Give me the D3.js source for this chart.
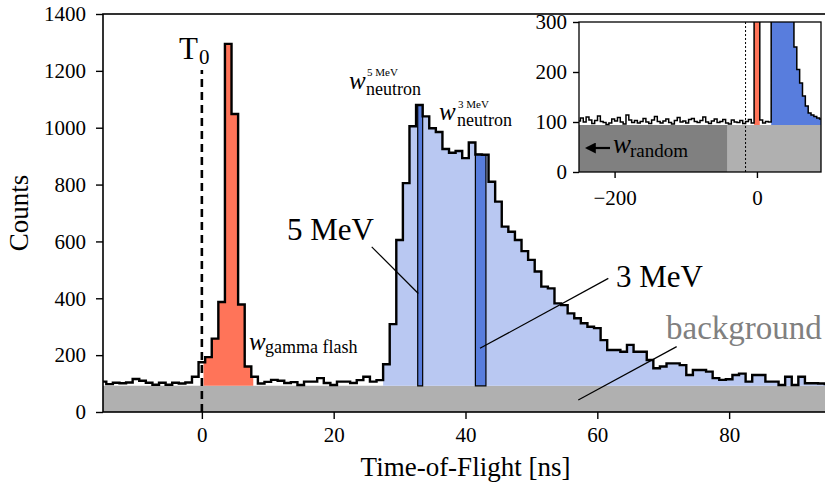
<!DOCTYPE html>
<html><head><meta charset="utf-8">
<script src="https://cdn.jsdelivr.net/npm/d3@7"></script>
<style>body{margin:0;background:#fff}</style>
</head><body><svg id="c" width="825" height="487"></svg>
<script>
// ---------- data ----------
const tof = [-15,-14,-13,-12,-11,-10,-9,-8,-7,-6,-5,-4,-3,-2,-1,0,1,2,3,4,5,6,7,8,9,
  10,11,12,13,14,15,16,17,18,19,20,21,22,23,24,25,26,27,28,29,30,31,32,33,34,35,36,37,38,39,
  40,41,42,43,44,45,46,47,48,49,50,51,52,53,54,55,56,57,58,59,60,61,62,63,64,65,66,67,68,69,
  70,71,72,73,74,75,76,77,78,79,80,81,82,83,84,85,86,87,88,89,90,91,92,93,94,95];
const counts = [107,98,103,101,104,116,110,103,96,103,96,103,100,104,124,175,193,258,387,1295,1048,378,160,124,100,
  106,113,110,102,105,95,107,107,119,102,95,107,107,102,112,124,107,112,168,309,605,805,1005,1080,1040,998,985,925,912,918,
  893,948,906,905,810,740,652,634,605,566,535,494,441,435,382,376,347,330,312,300,295,253,218,218,212,236,212,212,183,154,
  160,171,171,165,130,148,148,142,119,113,115,130,135,107,130,130,107,107,95,124,95,124,101,101,100,98];
const binWidth = 1;
const backgroundLevel = 92;
const gammaWindow = [0.25, 7.8];
const neutronWindow = [27.5, 95];
const window5MeV = [32.75, 33.5];
const window3MeV = [41.5, 43.1];
const t0Top = 1203;
const xTicks = [0, 20, 40, 60, 80];
const yTicks = [0, 200, 400, 600, 800, 1000, 1200, 1400];

// inset (coarser binning, wider range)
const insetBinStart = -252;
const insetBinWidth = 4;
const insetCounts = [102,108,100,110,104,97,103,112,101,99,
  95,98,106,102,109,100,96,114,104,99,
  103,98,101,107,100,97,104,111,101,98,
  102,106,99,96,103,109,100,102,98,105,
  107,101,99,103,110,100,97,102,106,99,
  101,105,98,96,104,100,99,103,97,101,
  105,98,
  900,650,
  104,98,101,100,
  420,1000,960,920,880,720,600,480,
  250,205,178,152,132,118,114,111,108,106];
const insetBackgroundLevel = 94;
const insetRandomWindow = [-250, -42];
const insetGammaWindow = [-4, 4];
const insetNeutronWindow = [20, 90];
const insetMarker = -16;
const insetXTicks = [-200, 0];
const insetYTicks = [0, 100, 200, 300];

// ---------- style ----------
const FONT = "'Liberation Serif','DejaVu Serif',serif";
const C = {orange:'#ff7459', light:'#b9c8f2', dark:'#587ddd', gray:'#b0b0b0', dgray:'#808080'};

const svg = d3.select('#c');
const M = {left:103, right:828, top:14, bottom:412};
const x = d3.scaleLinear().domain([-15, 95]).range([M.left, M.right]);
const y = d3.scaleLinear().domain([0, 1400]).range([M.bottom, M.top]);

function stepPoints(lefts, width, vals, a, b) {
  const pts = []; let last = null;
  for (let i = 0; i < vals.length; i++) {
    const l = lefts[i], r = l + width;
    if (r <= a || l >= b) continue;
    pts.push([Math.max(l, a), vals[i]]); last = vals[i];
  }
  pts.push([b, last]);
  return pts;
}
const lefts = tof.map(t => t - binWidth / 2);

const defs = svg.append('defs');
defs.append('clipPath').attr('id','mainClip').append('rect')
  .attr('x', M.left).attr('y', M.top).attr('width', M.right - M.left).attr('height', M.bottom - M.top);

const plot = svg.append('g').attr('clip-path','url(#mainClip)');

function fillArea(g, xs, ys, pts, base, color, stroke) {
  const ar = d3.area().curve(d3.curveStepAfter).x(d => xs(d[0])).y0(ys(base)).y1(d => ys(d[1]));
  const p = g.append('path').datum(pts).attr('d', ar).attr('fill', color);
  if (stroke) p.attr('stroke', '#000').attr('stroke-width', 1.2);
  return p;
}

// background
fillArea(plot, x, y, [[-15, backgroundLevel],[95, backgroundLevel]], 0, C.gray);
// neutron region
fillArea(plot, x, y, stepPoints(lefts, binWidth, counts, neutronWindow[0], neutronWindow[1]), backgroundLevel, C.light);
// gamma flash
fillArea(plot, x, y, stepPoints(lefts, binWidth, counts, gammaWindow[0], gammaWindow[1]), backgroundLevel, C.orange);
// energy windows
fillArea(plot, x, y, stepPoints(lefts, binWidth, counts, window5MeV[0], window5MeV[1]), backgroundLevel, C.dark, true);
fillArea(plot, x, y, stepPoints(lefts, binWidth, counts, window3MeV[0], window3MeV[1]), backgroundLevel, C.dark, true);
// histogram
plot.append('path').datum(stepPoints(lefts, binWidth, counts, -15, 95))
  .attr('d', d3.line().curve(d3.curveStepAfter).x(d => x(d[0])).y(d => y(d[1])))
  .attr('fill','none').attr('stroke','#000').attr('stroke-width',2.4);
// T0 marker
plot.append('line').attr('x1', x(0)).attr('x2', x(0)).attr('y1', y(0)).attr('y2', y(t0Top))
  .attr('stroke','#000').attr('stroke-width',2.6).attr('stroke-dasharray','8,5');

// annotation pointers (data coords)
const pointers = [
  [[25.77, 581], [32.84, 417]],
  [[61.67, 470], [42.2, 224]],
  [[72.04, 230], [57.11, 42]]
];
pointers.forEach(p => svg.append('line')
  .attr('x1', x(p[0][0])).attr('y1', y(p[0][1])).attr('x2', x(p[1][0])).attr('y2', y(p[1][1]))
  .attr('stroke','#000').attr('stroke-width',1.2));

// axes
function styleAxis(g) {
  g.attr('font-family', FONT).attr('font-size', 21);
  g.selectAll('.tick line').attr('stroke-width', 1.4);
  g.select('.domain').remove();
}
svg.append('g').attr('transform', `translate(${M.left},0)`)
  .call(d3.axisLeft(y).tickValues(yTicks).tickSize(7).tickPadding(10).tickFormat(d3.format('d')))
  .call(styleAxis);
svg.append('g').attr('transform', `translate(0,${M.bottom})`)
  .call(d3.axisBottom(x).tickValues(xTicks).tickSize(7).tickPadding(8).tickFormat(d3.format('d')))
  .call(styleAxis);
svg.append('rect').attr('x', M.left).attr('y', M.top).attr('width', M.right - M.left).attr('height', M.bottom - M.top)
  .attr('fill','none').attr('stroke','#000').attr('stroke-width',1.6);

// axis titles
svg.append('text').attr('x', (M.left + M.right) / 2).attr('y', 476).attr('text-anchor','middle')
  .attr('font-family', FONT).attr('font-size', 27).text('Time-of-Flight [ns]');
svg.append('text').attr('transform', `translate(28,${(M.top + M.bottom) / 2}) rotate(-90)`).attr('text-anchor','middle')
  .attr('font-family', FONT).attr('font-size', 27).text('Counts');

// text labels
function txt(s, px, py, size, opts = {}) {
  const t = svg.append('text').attr('x', px).attr('y', py).attr('font-family', FONT).attr('font-size', size)
    .attr('fill', opts.fill || '#000').text(s);
  if (opts.italic) t.attr('font-style','italic');
  return t;
}
txt('T', 179, 59, 31); txt('0', 199, 64, 21);
txt('5 MeV', 287, 240, 31);
txt('3 MeV', 616, 287, 31);
txt('background', 666, 339, 33, {fill:'#808080'});
txt('w', 249, 350, 25, {italic:true}); txt('gamma flash', 265, 353, 18);
txt('w', 349, 89, 25, {italic:true}); txt('5 MeV', 367, 76, 11); txt('neutron', 366, 95, 18);
txt('w', 439, 120, 25, {italic:true}); txt('3 MeV', 458, 108, 11); txt('neutron', 457, 126, 18);

// ---------- inset ----------
const I = {left:579, right:821, top:22, bottom:172};
const ix = d3.scaleLinear().domain([-250, 90]).range([I.left, I.right]);
const iy = d3.scaleLinear().domain([0, 300]).range([I.bottom, I.top]);
const iLefts = insetCounts.map((_, i) => insetBinStart + i * insetBinWidth);
defs.append('clipPath').attr('id','insetClip').append('rect')
  .attr('x', I.left).attr('y', I.top).attr('width', I.right - I.left).attr('height', I.bottom - I.top);
svg.append('rect').attr('x', I.left).attr('y', I.top).attr('width', I.right - I.left).attr('height', I.bottom - I.top).attr('fill','#fff');
const ip = svg.append('g').attr('clip-path','url(#insetClip)');
fillArea(ip, ix, iy, [[-250, insetBackgroundLevel],[90, insetBackgroundLevel]], 0, C.gray);
fillArea(ip, ix, iy, [[insetRandomWindow[0], insetBackgroundLevel],[insetRandomWindow[1], insetBackgroundLevel]], 0, C.dgray);
fillArea(ip, ix, iy, stepPoints(iLefts, insetBinWidth, insetCounts, insetGammaWindow[0], insetGammaWindow[1]), insetBackgroundLevel, C.orange);
fillArea(ip, ix, iy, stepPoints(iLefts, insetBinWidth, insetCounts, insetNeutronWindow[0], insetNeutronWindow[1]), insetBackgroundLevel, C.dark);
ip.append('path').datum(stepPoints(iLefts, insetBinWidth, insetCounts, -250, 90))
  .attr('d', d3.line().curve(d3.curveStepAfter).x(d => ix(d[0])).y(d => iy(d[1])))
  .attr('fill','none').attr('stroke','#000').attr('stroke-width',1.5);
ip.append('line').attr('x1', ix(insetMarker)).attr('x2', ix(insetMarker)).attr('y1', iy(0)).attr('y2', iy(300))
  .attr('stroke','#000').attr('stroke-width',1).attr('stroke-dasharray','2,2');
svg.append('g').attr('transform', `translate(${I.left},0)`)
  .call(d3.axisLeft(iy).tickValues(insetYTicks).tickSize(6).tickPadding(6).tickFormat(d3.format('d')))
  .call(styleAxis);
svg.append('g').attr('transform', `translate(0,${I.bottom})`)
  .call(d3.axisBottom(ix).tickValues(insetXTicks).tickSize(6).tickPadding(12).tickFormat(d3.format('d')))
  .call(styleAxis);
svg.append('rect').attr('x', I.left).attr('y', I.top).attr('width', I.right - I.left).attr('height', I.bottom - I.top)
  .attr('fill','none').attr('stroke','#000').attr('stroke-width',1.3);
// w_random with arrow
defs.append('marker').attr('id','arr').attr('viewBox','0 0 10 10').attr('refX',8).attr('refY',5)
  .attr('markerWidth',5).attr('markerHeight',5).attr('orient','auto')
  .append('path').attr('d','M0,0 L10,5 L0,10 z').attr('fill','#000');
svg.append('line').attr('x1', 610).attr('y1', 148).attr('x2', 587).attr('y2', 148)
  .attr('stroke','#000').attr('stroke-width',2.2).attr('marker-end','url(#arr)');
txt('w', 613, 153, 27, {italic:true}); txt('random', 630, 157, 19);
</script></body></html>
